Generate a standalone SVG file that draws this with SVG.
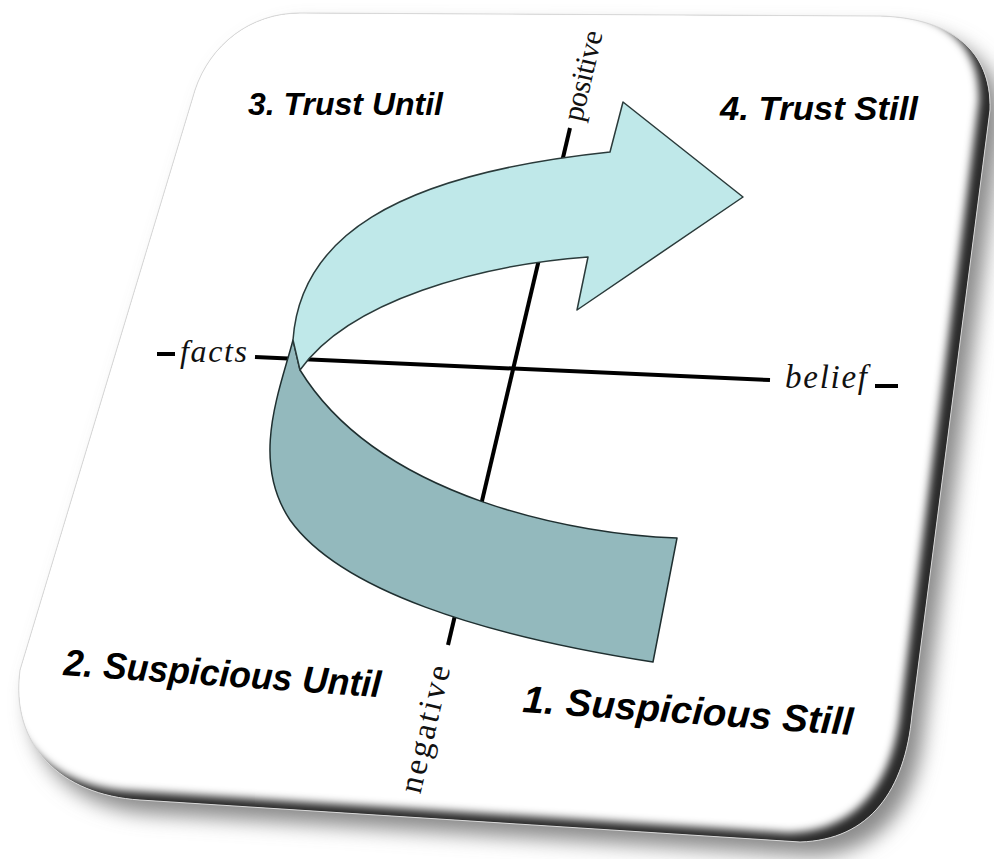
<svg xmlns="http://www.w3.org/2000/svg" width="994" height="859" viewBox="0 0 994 859">
<defs>
<path id="card" d="M 300,13 L 880,16 C 950,18 992,50 990,110 L 912,715 C 905,790 870,840 800,842 L 140,800 C 60,795 10,745 20,670 L 195,90 C 210,45 250,13 300,13 Z"/>
<clipPath id="cardClip"><use href="#card"/></clipPath>
<filter id="shadowBlur" x="-10%" y="-10%" width="130%" height="130%"><feGaussianBlur stdDeviation="10"/></filter>
<filter id="rimBlur" x="-10%" y="-10%" width="120%" height="120%"><feGaussianBlur stdDeviation="4"/></filter>
<style>
.axis{stroke:#000;stroke-width:4;fill:none;stroke-linecap:butt}
.serif{font-family:"Liberation Serif","DejaVu Serif",serif;fill:#111}
.quad{font-family:"Liberation Sans",Arial,sans-serif;font-weight:bold;font-style:italic;fill:#000}
.light{fill:#bfe8e9;stroke:#2a3a3a;stroke-width:1.5;stroke-linejoin:round}
.dark{fill:#93b9bd;stroke:#1f2f30;stroke-width:1.5;stroke-linejoin:round}
</style>
</defs>
<rect width="994" height="859" fill="#fff"/>
<g id="card-frame">
<use href="#card" transform="translate(12,14)" fill="#8a8a8a" filter="url(#shadowBlur)"/>
<g clip-path="url(#cardClip)">
<use href="#card" fill="#2a2a2a"/>
<use href="#card" transform="translate(-11,-9)" fill="#fff" filter="url(#rimBlur)"/>
</g>
<use href="#card" fill="none" stroke="#d8d8d8" stroke-width="1"/>
</g>
<g id="axes">
<line class="axis" x1="157" y1="354" x2="175" y2="354"/>
<line class="axis" x1="255" y1="357" x2="770" y2="380"/>
<line class="axis" x1="875" y1="386" x2="898" y2="386"/>
<line class="axis" x1="570" y1="128" x2="448" y2="645"/>
</g>
<g id="axis-labels">
<text class="serif" x="180" y="362" font-size="32" font-style="italic" textLength="67" lengthAdjust="spacing">facts</text>
<text class="serif" x="785" y="388" font-size="33" font-style="italic" textLength="82" lengthAdjust="spacing">belief</text>
<text class="serif" font-size="30" textLength="92" lengthAdjust="spacing" dominant-baseline="middle" transform="translate(575,121) rotate(-76.7)">positive</text>
<text class="serif" font-size="33" textLength="130" lengthAdjust="spacing" dominant-baseline="middle" transform="translate(413,793) rotate(-76.7)">negative</text>
</g>
<g id="arrow">
<path id="arrow-under" class="dark" d="M 293,340 C 280,390 250,460 290,520 C 340,590 480,635 653,662 L 677,538 C 580,535 380,500 300,370 Z"/>
<path id="arrow-top" class="light" d="M 293,340 C 300,240 390,175 610,152 L 623,102 L 743,197 L 577,310 L 588,257 C 480,265 350,300 300,370 Z"/>
</g>
<g id="q3"><text class="quad" x="248" y="115" font-size="32" textLength="195" lengthAdjust="spacingAndGlyphs">3. Trust Until</text></g>
<g id="q4"><text class="quad" x="720" y="120" font-size="34" textLength="198" lengthAdjust="spacingAndGlyphs">4. Trust Still</text></g>
<g id="q2"><text class="quad" font-size="37" textLength="318" lengthAdjust="spacingAndGlyphs" transform="translate(63,675) rotate(4)">2. Suspicious Until</text></g>
<g id="q1"><text class="quad" font-size="38" textLength="331" lengthAdjust="spacingAndGlyphs" transform="translate(522,712) rotate(4)">1. Suspicious Still</text></g>
</svg>
